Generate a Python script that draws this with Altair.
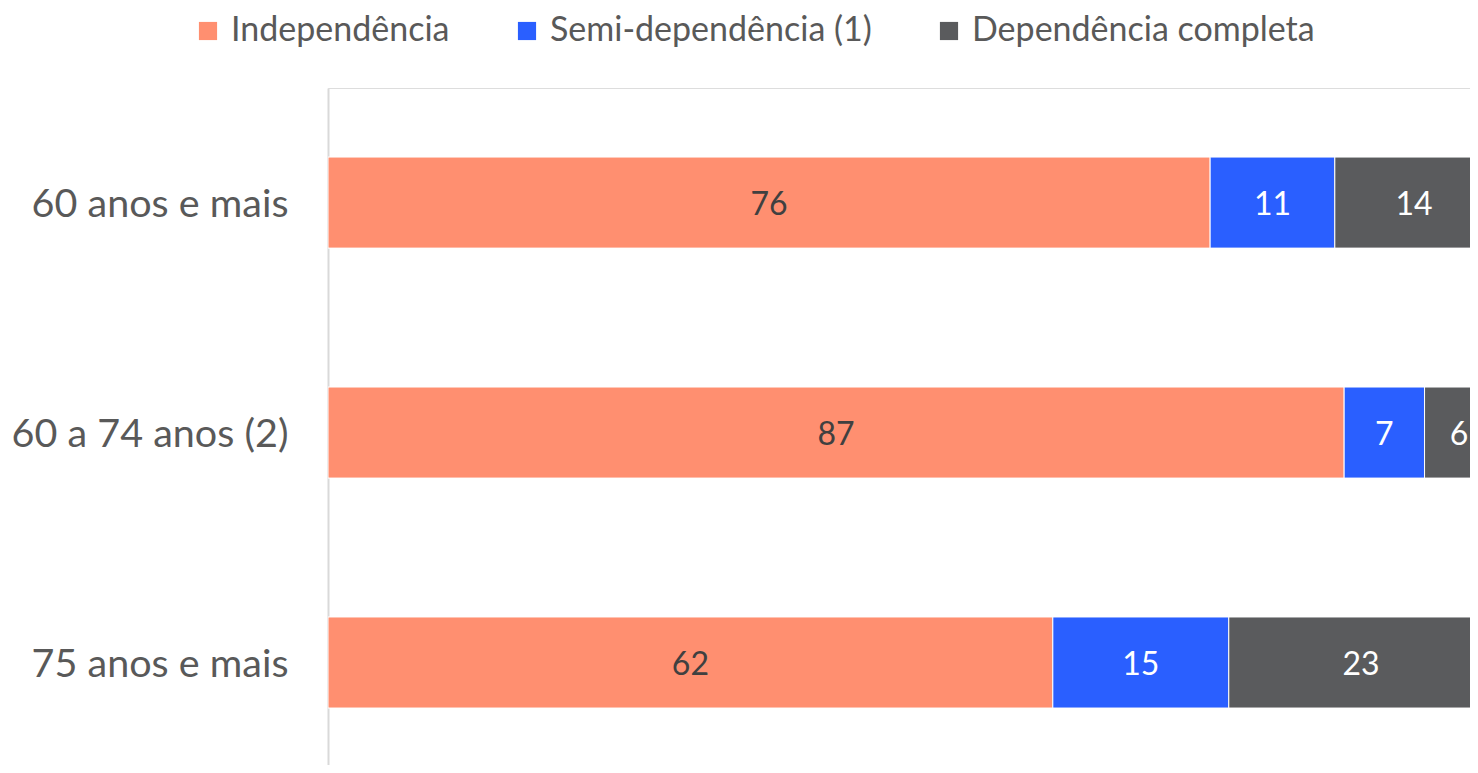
import altair as alt
import pandas as pd

groups = ["60 anos e mais", "60 a 74 anos (2)", "75 anos e mais"]
categories = ["Independência", "Semi-dependência (1)", "Dependência completa"]
independencia = [75.7, 87.2, 62.2]
semi = [10.7, 6.9, 15.1]
completa = [13.6, 5.9, 22.7]
colors = ["#FF8F70", "#2A5FFF", "#5A5B5D"]

rows = []
for i, g in enumerate(groups):
    for k, (cat, vals) in enumerate(zip(categories, [independencia, semi, completa])):
        rows.append({"grupo": g, "cat": cat, "ordem": k, "valor": vals[i]})
df = pd.DataFrame(rows)

FONT = "Lato"

base = alt.Chart(df).transform_stack(
    stack="valor", groupby=["grupo"], as_=["x0", "x1"],
    sort=[alt.SortField("ordem", order="ascending")]
).transform_calculate(mid="(datum.x0 + datum.x1) / 2")

xscale = alt.Scale(domain=[0, 98], nice=False, zero=True)
yscale = alt.Scale(domain=groups, paddingInner=0.604, paddingOuter=0.274, align=0.548)

bars = base.mark_bar(clip=True, stroke="white", strokeWidth=1).encode(
    x=alt.X("x0:Q", scale=xscale, axis=None),
    x2="x1:Q",
    y=alt.Y("grupo:N", scale=yscale, sort=groups, title=None,
            axis=alt.Axis(domainColor="#D9D9D9", domainWidth=2, ticks=False, grid=False,
                          labelFontSize=39.5, labelColor="#595959", labelFont=FONT,
                          labelPadding=40, labelLimit=400, labelOffset=2)),
    color=alt.Color("cat:N", scale=alt.Scale(domain=categories, range=colors),
                    legend=alt.Legend(orient="none", legendX=-137, legendY=-74,
                                      direction="horizontal", title=None,
                                      symbolType="square", symbolSize=330,
                                      symbolStrokeWidth=0, labelFontSize=34,
                                      labelFont=FONT, labelColor="#595959",
                                      labelOffset=6, columnPadding=60, padding=0,
                                      labelLimit=500)),
)

texts = base.mark_text(fontSize=32, font=FONT, baseline="middle", align="center", dy=2).encode(
    x=alt.X("mid:Q", scale=xscale, axis=None),
    y=alt.Y("grupo:N", scale=yscale, sort=groups),
    text=alt.Text("valor:Q", format=".0f"),
    color=alt.condition(alt.datum.cat == "Independência", alt.value("#404040"), alt.value("white")),
)

chart = alt.layer(bars, texts).properties(
    width=1142, height=677,
    autosize=alt.AutoSizeParams(type="none"),
    padding={"left": 320, "top": 80, "right": 0, "bottom": 0},
).configure_view(stroke=None).configure(background="white")

chart.save("out.html", embed_options={"renderer": "svg", "actions": False})
